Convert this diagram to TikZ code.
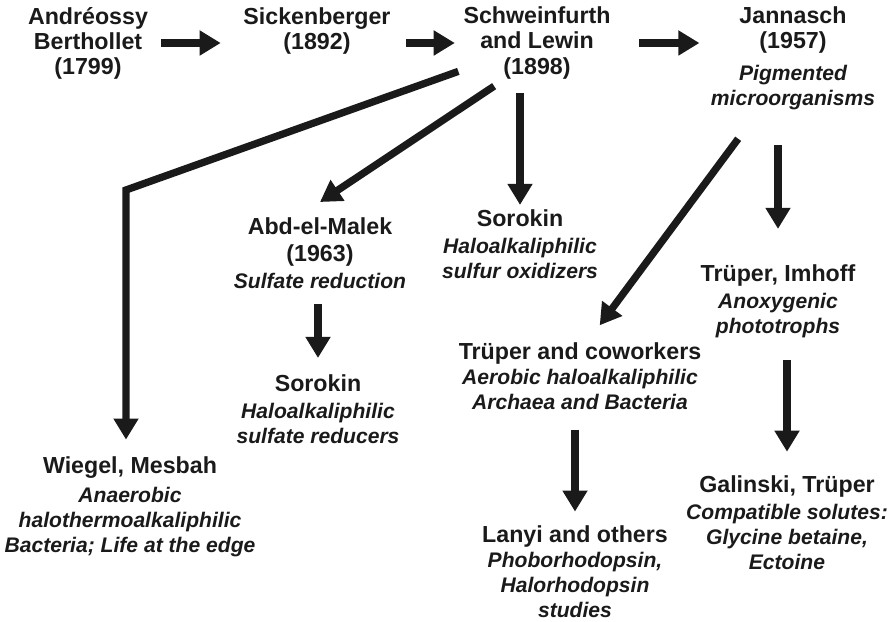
\documentclass[tikz,border=0pt]{standalone}
\usepackage{fontspec}
\setmainfont{Liberation Sans}
\usepackage{tikz}
\usetikzlibrary{arrows.meta,positioning}
\definecolor{inkgray}{RGB}{26,26,26}
\newcommand{\desc}[1]{{\fontsize{15}{17}\selectfont\itshape #1}}

\begin{document}
\begin{tikzpicture}[
    x=0.025cm,
    y=-0.025cm,
    >={Triangle[length=15pt,width=17pt]},
    entry/.style={
        align=center,
        inner sep=0pt,
        text=inkgray,
        font=\bfseries\fontsize{16.5}{17.8}\selectfont
    },
    flow/.style={
        ->,
        line width=5.2pt,
        draw=inkgray
    }
]
\useasboundingbox (0,0) rectangle (891,622);

% Top row
\node[entry] (andreossy) at (88,43)
{Andréossy\\Berthollet\\(1799)};

\node[entry] (sickenberger) at (317,31)
{Sickenberger\\(1892)};

\node[entry] (schweinfurth) at (537,43)
{Schweinfurth\\and Lewin\\(1898)};

\node[entry] (jannasch) at (793,58)
{Jannasch\\(1957)\\[5pt]
\desc{Pigmented}\\
\desc{microorganisms}};

% Second level
\node[entry] (abdelmalek) at (320,253)
{Abd-el-Malek\\[1.5pt](1963)\\[1.5pt]
\desc{Sulfate reduction}};

\node[entry] (sorokinB) at (520,244)
{Sorokin\\[1.5pt]
\desc{Haloalkaliphilic}\\
\desc{sulfur oxidizers}};

\node[entry] (trueperImhoff) at (778,301)
{Trüper, Imhoff\\[1.5pt]
\desc{Anoxygenic}\\
\desc{phototrophs}};

% Third level
\node[entry] (sorokinA) at (318,409)
{Sorokin\\[1.5pt]
\desc{Haloalkaliphilic}\\
\desc{sulfate reducers}};

\node[entry] (trueperCo) at (580,376)
{Trüper and coworkers\\
\desc{Aerobic haloalkaliphilic}\\
\desc{Archaea and Bacteria}};

% Bottom row
\node[entry] (wiegel) at (130,507)
{Wiegel, Mesbah\\[3pt]
\desc{Anaerobic}\\
\desc{halothermoalkaliphilic}\\
\desc{Bacteria; Life at the edge}};

\node[entry] (lanyi) at (575,572)
{Lanyi and others\\
\desc{Phoborhodopsin,}\\
\desc{Halorhodopsin}\\
\desc{studies}};

\node[entry] (galinski) at (787,523)
{Galinski, Trüper\\[1.5pt]
\desc{Compatible solutes:}\\
\desc{Glycine betaine,}\\
\desc{Ectoine}};

% Arrows along the top
\draw[flow, shorten <=9pt, shorten >=16pt]
(andreossy.east) -- (andreossy.east -| sickenberger.west);

\draw[flow, shorten <=11pt, shorten >=6pt]
(sickenberger.east |- schweinfurth.west) -- (schweinfurth.west);

\draw[flow, shorten <=20pt, shorten >=8pt]
(schweinfurth.east) -- (schweinfurth.east -| jannasch.west);

% Branches from Schweinfurth and Lewin
\coordinate (bend) at (126,190);

\draw[flow, shorten >=12pt]
([shift={(-3.5pt,5.5pt)}]schweinfurth.south west) -- (bend) -- (bend |- wiegel.north);

\draw[flow]
([shift={(-30.5pt,-5pt)}]schweinfurth.south) -- ([yshift=10.7pt]abdelmalek.north);

\draw[flow, xshift=3.5pt, shorten <=10pt, shorten >=3pt]
(sorokinB.north |- schweinfurth.south) -- (sorokinB.north);

\draw[flow, shorten <=11pt, shorten >=11.5pt]
(sorokinA.north |- abdelmalek.south) -- (sorokinA.north);

% Branches from Jannasch
\draw[flow]
([shift={(-39pt,-20.5pt)}]jannasch.south) -- ([shift={(14pt,12pt)}]trueperCo.north);

\draw[flow, xshift=3.5pt, shorten <=25pt, shorten >=25pt]
(trueperImhoff.north |- jannasch.south) -- (trueperImhoff.north);

\draw[flow, xshift=1.5pt, shorten <=14pt, shorten >=10pt]
(lanyi.north |- trueperCo.south) -- (lanyi.north);

\draw[flow, shorten <=16pt, shorten >=17pt]
(galinski.north |- trueperImhoff.south) -- (galinski.north);
\end{tikzpicture}
\end{document}
